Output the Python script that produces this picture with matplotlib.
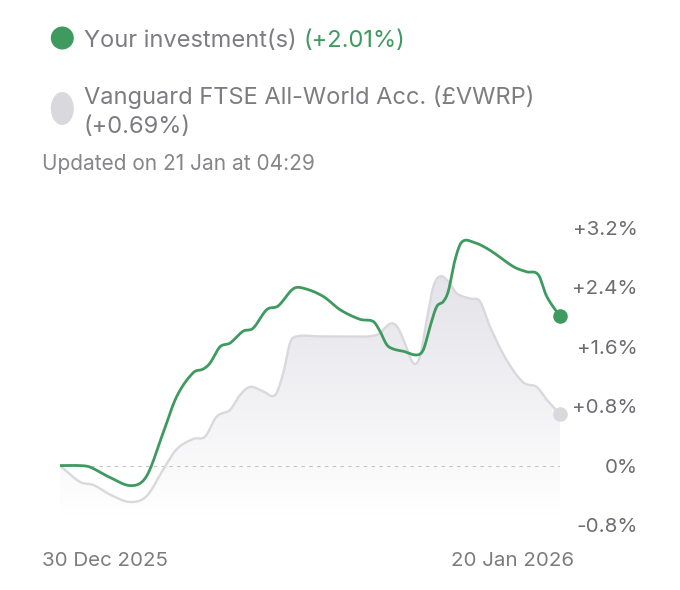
import numpy as np
import matplotlib
matplotlib.use("Agg")
import matplotlib.pyplot as plt
from matplotlib.patches import Ellipse, Polygon

plt.rcParams['font.family'] = ['Inter', 'DejaVu Sans']

# ---- data (days since 30 Dec 2025, % change) ----
inv_days = [0.00, 0.84, 1.26, 2.10, 3.01, 3.64, 4.33, 4.90, 5.59, 6.01, 6.30, 6.72, 7.14,
            7.69, 8.11, 8.68, 9.16, 9.79, 10.21, 11.05, 11.76, 12.60, 13.16, 13.44,
            13.72, 14.00, 14.42, 14.98, 15.26, 15.54, 15.82, 16.10, 16.31, 16.59,
            16.87, 17.36, 18.06, 19.04, 19.60, 20.09, 20.44, 21.00]
inv_vals = [0.00, 0.00, -0.02, -0.16, -0.27, -0.14, 0.44, 0.93, 1.25, 1.30, 1.38, 1.60, 1.65,
            1.81, 1.85, 2.10, 2.15, 2.38, 2.39, 2.28, 2.10, 1.97, 1.94, 1.81,
            1.63, 1.57, 1.54, 1.49, 1.56, 1.87, 2.14, 2.21, 2.35, 2.77,
            3.01, 3.01, 2.90, 2.68, 2.61, 2.57, 2.28, 2.01]

bm_days = [0.00, 0.84, 1.40, 2.10, 2.94, 3.64, 4.34, 4.90, 5.60, 6.09, 6.58, 7.14,
           7.56, 7.98, 8.54, 9.03, 9.38, 9.66, 9.94, 10.92, 12.18, 13.30, 13.86,
           14.14, 14.42, 14.84, 15.12, 15.40, 15.68, 15.96, 16.31, 16.66, 17.22,
           17.64, 18.06, 18.76, 19.46, 20.02, 20.44, 21.00]
bm_vals = [0.00, -0.22, -0.26, -0.39, -0.49, -0.41, -0.05, 0.22, 0.36, 0.39, 0.66, 0.75,
           0.95, 1.06, 1.00, 0.95, 1.25, 1.65, 1.74, 1.74, 1.74, 1.76, 1.91,
           1.88, 1.70, 1.38, 1.47, 1.96, 2.41, 2.55, 2.48, 2.32, 2.25,
           2.21, 1.87, 1.42, 1.12, 1.06, 0.89, 0.69]

y_ticks = [3.2, 2.4, 1.6, 0.8, 0.0, -0.8]
y_labels = ['+3.2%', '+2.4%', '+1.6%', '+0.8%', '0%', '-0.8%']
x_labels = ['30 Dec 2025', '20 Jan 2026']
inv_name = 'Your investment(s)'
inv_change = '(+2.01%)'
bm_name = 'Vanguard FTSE All-World Acc. (£VWRP)'
bm_change = '(+0.69%)'
updated = 'Updated on 21 Jan at 04:29'

GREEN = '#3e9a5f'
GRAY_LINE = '#d9d9dd'
GRAY_DOT = '#d8d8dd'
TEXT = '#7c7c82'
TICK = '#6c6c72'


def smooth(x, y, n=800):
    """Cubic Hermite rendering of the read points (display smoothing only)."""
    x = np.asarray(x, float); y = np.asarray(y, float)
    h = np.diff(x)
    m = np.zeros_like(y)
    m[1:-1] = (y[2:] - y[:-2]) / (x[2:] - x[:-2])
    m[0] = (y[1] - y[0]) / h[0]; m[-1] = (y[-1] - y[-2]) / h[-1]
    xs = np.linspace(x[0], x[-1], n)
    idx = np.clip(np.searchsorted(x, xs) - 1, 0, len(x) - 2)
    t = (xs - x[idx]) / h[idx]
    h00 = 2 * t**3 - 3 * t**2 + 1; h10 = t**3 - 2 * t**2 + t
    h01 = -2 * t**3 + 3 * t**2; h11 = t**3 - t**2
    ys = h00 * y[idx] + h10 * h[idx] * m[idx] + h01 * y[idx + 1] + h11 * h[idx] * m[idx + 1]
    return xs, ys


W, H = 680, 590
fig = plt.figure(figsize=(W / 100, H / 100), dpi=100)
fig.patch.set_facecolor('white')

# axes: x pixels 60..560, y pixels 228 (3.2%) .. 525 (-0.8%)
ax = fig.add_axes([60 / W, 1 - 525 / H, 500 / W, (525 - 228) / H])
ax.set_xlim(inv_days[0], inv_days[-1])
ax.set_ylim(-0.8, 3.2)
for s in ax.spines.values():
    s.set_visible(False)
ax.set_xticks([])
ax.yaxis.tick_right()
ax.set_yticks(y_ticks)
ax.set_yticklabels(y_labels)
ax.tick_params(axis='y', length=0, pad=56, labelsize=14.8, labelcolor=TICK)
for lab in ax.get_yticklabels():
    lab.set_horizontalalignment('right')

# benchmark gradient area
bx, by = smooth(bm_days, bm_vals)
floor = -0.68
verts = np.column_stack([np.r_[bx, bx[-1], bx[0]], np.r_[by, floor, floor]])
poly = Polygon(verts, closed=True, facecolor='none', edgecolor='none')
ax.add_patch(poly)
grad = np.linspace(0, 1, 256)[:, None]
c_top = np.array([0.878, 0.875, 0.9])
c_bot = np.array([1.0, 1.0, 1.0])
img = c_top[None, None, :] * (1 - grad[..., None]) + c_bot[None, None, :] * grad[..., None]
img = np.repeat(img, 2, axis=1)
im = ax.imshow(img, extent=[bx[0], bx[-1], floor, 3.0], aspect='auto',
               origin='upper', zorder=1, interpolation='bilinear')
im.set_clip_path(poly)

# zero line
ax.axhline(0, color='#c4c4c8', lw=0.8, ls=(0, (3, 4)), zorder=2)

ax.plot(bx, by, color=GRAY_LINE, lw=1.7, zorder=3, solid_capstyle='round')
gx, gy = smooth(inv_days, inv_vals)
ax.plot(gx, gy, color=GREEN, lw=2.0, zorder=4, solid_capstyle='round')

ax.scatter([bm_days[-1]], [bm_vals[-1]], s=110, color=GRAY_DOT, zorder=5, clip_on=False, linewidths=0)
ax.scatter([inv_days[-1]], [inv_vals[-1]], s=110, color=GREEN, zorder=6, clip_on=False, linewidths=0)

# x labels
ax.text(-18 / 500, -41 / 297, x_labels[0], transform=ax.transAxes, ha='left', va='baseline',
        fontsize=14.8, color=TEXT)
ax.text(514 / 500, -41 / 297, x_labels[1], transform=ax.transAxes, ha='right', va='baseline',
        fontsize=14.8, color=TEXT)

# legend / header (figure pixel coords)
def fx(px):
    return px / W


def fy(py):
    return 1 - py / H


fig.patches.append(Ellipse((fx(62.3), fy(38)), 23 / W, 23 / H, transform=fig.transFigure,
                           facecolor=GREEN, edgecolor='none'))
fig.patches.append(Ellipse((fx(62.3), fy(108.5)), 23 / W, 33 / H, transform=fig.transFigure,
                           facecolor=GRAY_DOT, edgecolor='none'))

FS = 17
t1 = fig.text(fx(84), fy(47), inv_name + ' ', ha='left', va='baseline', fontsize=FS, color=TEXT)
fig.canvas.draw()
bb = t1.get_window_extent()
fig.text(bb.x1 / W, fy(47), inv_change, ha='left', va='baseline', fontsize=FS, color=GREEN)
fig.text(fx(84), fy(104), bm_name, ha='left', va='baseline', fontsize=FS, color=TEXT)
fig.text(fx(84), fy(133), bm_change, ha='left', va='baseline', fontsize=FS, color=TEXT)
fig.text(fx(42), fy(170), updated, ha='left', va='baseline', fontsize=15, color='#85858b')

fig.savefig('out.png', dpi=100, facecolor='white')
